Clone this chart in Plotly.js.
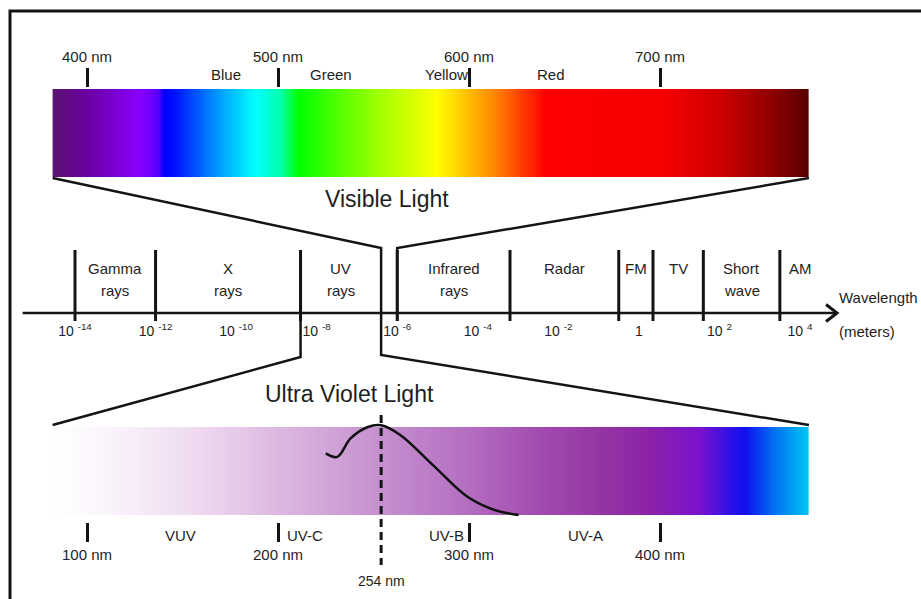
<!DOCTYPE html>
<html><head><meta charset="utf-8">
<script src="https://cdn.plot.ly/plotly-3.0.1.min.js"></script>
<style>html,body{margin:0;padding:0;background:#fff;}#chart{width:921px;height:599px;}</style>
</head><body><div id="chart"></div>
<script>
// ---------------- data ----------------
// Visible light spectrum (nm)
const visTickNm = [400, 500, 600, 700];
const visTickText = ['400 nm', '500 nm', '600 nm', '700 nm'];
const visColorNames = ['Blue', 'Green', 'Yellow', 'Red'];
const visColorNameNm = [473, 528, 588, 643];
const visBarNm = [382, 778];
const visStopNm = [382, 400, 428, 437, 441, 446, 467, 488, 501, 511, 527, 553, 574, 583, 595, 611, 621, 640, 700, 731, 758, 778];
const visStopColor = ['#5a1470', '#6a00a0', '#8a00ff', '#5a00ff', '#0000ff', '#0010ff', '#0090ff', '#00ffff', '#00ffb0', '#00ff00', '#40ff00', '#a0ff00', '#e0ff00', '#ffff00', '#ffd000', '#ff9000', '#ff6000', '#ff0000', '#f80000', '#d00000', '#900000', '#580000'];

// Ultra violet spectrum (nm)
const uvTickNm = [100, 200, 300, 400];
const uvTickText = ['100 nm', '200 nm', '300 nm', '400 nm'];
const uvBandNames = ['VUV', 'UV-C', 'UV-B', 'UV-A'];
const uvBandNameNm = [149, 214, 288, 361];
const uvBarNm = [82, 478];
const uvStopNm = [82, 107, 159, 201, 253, 295, 332, 369, 395, 421, 438, 445, 460, 478];
const uvStopColor = ['#ffffff', '#fbf6fc', '#eed9f0', '#dcb8e0', '#c690cf', '#b672c2', '#a44fb2', '#9535a3', '#8c22a8', '#7a12cc', '#2a10e8', '#1010f0', '#0070f0', '#00c8f5'];
const uvCurveNm = [225, 231, 238, 247, 254, 264, 281, 299, 313, 326];
const uvCurveRel = [0.70, 0.66, 0.87, 1.0, 1.02, 0.91, 0.57, 0.21, 0.06, 0.0];
const uvPeakNm = 254;
const uvPeakLabel = '254 nm';

// Electromagnetic spectrum (log10 of wavelength in meters)
const emTickExp = [-14, -12, -10, -8, -6, -4, -2, 0, 2, 4];
const emTickText = ['10 <sup>-14</sup>', '10 <sup>-12</sup>', '10 <sup>-10</sup>', '10 <sup>-8</sup>', '10 <sup>-6</sup>', '10 <sup>-4</sup>', '10 <sup>-2</sup>', '1', '10 <sup>2</sup>', '10 <sup>4</sup>'];
const bandLine1 = ['Gamma', 'X', 'UV', 'Infrared', 'Radar', 'FM', 'TV', 'Short', 'AM'];
const bandLine2 = ['rays', 'rays', 'rays', 'rays', '', '', '', 'wave', ''];
const bandStartExp = [-14, -12, -8.4, -6.0, -3.2, -0.5, 0.35, 1.6, 3.5];
const bandEndExp = [-12, -8.4, -6.4, -3.2, -0.5, 0.35, 1.6, 3.5, 4.5];
const visibleExp = [-6.4, -6.0];
const axisExp = [-15.3, 4.92];

// ---------------- layout geometry (pixels) ----------------
const W = 921, H = 599;
const FONT = 'Liberation Sans, Arial, Helvetica, sans-serif';
const TXT = '#1e1e1e';
function rangeFor(v0, p0, v1, p1, pa, pb) {
  const s = (v1 - v0) / (p1 - p0);
  return [v0 + (pa - p0) * s, v0 + (pb - p0) * s];
}
const xVisR = rangeFor(400, 87, 700, 660, 0, W);
const xUvR = rangeFor(100, 87, 400, 660, 0, W);
const xEmR = rangeFor(-14, 75, 4, 800, 0, W);
const yVisR = rangeFor(0, 177, 1, 89, H, 0);
const yUvR = rangeFor(0, 515, 1, 427, H, 0);
const px = (r, v) => (v - r[0]) / (r[1] - r[0]) * W;
const pyv = (r, v) => H - (v - r[0]) / (r[1] - r[0]) * H;
const yp = p => 1 - p / H;      // pixel row -> paper
const P = (x, y) => (x / W).toFixed(5) + ',' + (1 - y / H).toFixed(5);

// ---------------- traces ----------------
function gradientTrace(barNm, stopNm, stopColor, xa, ya) {
  const edges = [], mids = [];
  for (let v = barNm[0]; v <= barNm[1]; v += 1) edges.push(v);
  for (let i = 0; i < edges.length - 1; i++) mids.push((edges[i] + edges[i + 1]) / 2);
  const span = barNm[1] - barNm[0];
  const cs = stopNm.map((n, i) => [(n - barNm[0]) / span, stopColor[i]]);
  return {type: 'heatmap', x: edges, y: [0, 1], z: [mids], zmin: barNm[0], zmax: barNm[1],
    colorscale: cs, showscale: false, hoverinfo: 'skip', xaxis: xa, yaxis: ya, zsmooth: false};
}
const traces = [
  gradientTrace(visBarNm, visStopNm, visStopColor, 'x', 'y'),
  gradientTrace(uvBarNm, uvStopNm, uvStopColor, 'x2', 'y2'),
  {type: 'scatter', mode: 'lines', x: uvCurveNm, y: uvCurveRel, xaxis: 'x2', yaxis: 'y2',
   line: {color: '#111', width: 2.5, shape: 'spline', smoothing: 1}, hoverinfo: 'skip', showlegend: false},
  {type: 'scatter', mode: 'markers', x: bandStartExp, y: bandStartExp.map(() => -1000), xaxis: 'x3', yaxis: 'y',
   marker: {opacity: 0}, hoverinfo: 'skip', showlegend: false}
];

// ---------------- shapes ----------------
const LC = '#141414';
const shapes = [];
shapes.push({type: 'rect', xref: 'paper', yref: 'paper', x0: 10 / W, x1: (W + 10) / W, y0: yp(H + 10), y1: yp(11),
  line: {color: LC, width: 3}});
// band dividers
bandStartExp.forEach(e => shapes.push({type: 'line', xref: 'x3', yref: 'paper', x0: e, x1: e, y0: yp(250), y1: yp(321),
  line: {color: LC, width: 3}}));
// main wavelength axis with arrow
shapes.push({type: 'line', xref: 'x3', yref: 'paper', x0: axisExp[0], x1: axisExp[1], y0: yp(313), y1: yp(313),
  line: {color: LC, width: 2.5}});
const tip = px(xEmR, axisExp[1]);
shapes.push({type: 'path', xref: 'paper', yref: 'paper', path: 'M' + P(tip - 11, 304.5) + 'L' + P(tip, 313) + 'L' + P(tip - 11, 321.5),
  line: {color: LC, width: 3}});
// zoom connectors
const visL = px(xVisR, visBarNm[0]), visRt = px(xVisR, visBarNm[1]), visB = pyv(yVisR, 0);
const uvL = px(xUvR, uvBarNm[0]), uvRt = px(xUvR, uvBarNm[1]), uvT = pyv(yUvR, 1) - 2;
const vA = px(xEmR, visibleExp[0]), vB = px(xEmR, visibleExp[1]), uvA = px(xEmR, bandStartExp[2]);
shapes.push({type: 'path', xref: 'paper', yref: 'paper', line: {color: LC, width: 2.5},
  path: 'M' + P(visL, visB + 1) + 'L' + P(vA, 248) + 'L' + P(vA, 355) + 'L' + P(uvRt, uvT)});
shapes.push({type: 'path', xref: 'paper', yref: 'paper', line: {color: LC, width: 2.5},
  path: 'M' + P(visRt, visB + 1) + 'L' + P(vB, 248) + 'L' + P(vB, 321)});
shapes.push({type: 'path', xref: 'paper', yref: 'paper', line: {color: LC, width: 2.5},
  path: 'M' + P(uvA, 250) + 'L' + P(uvA, 357) + 'L' + P(uvL, uvT)});
// 254 nm dashed marker
shapes.push({type: 'line', xref: 'x2', yref: 'paper', x0: uvPeakNm, x1: uvPeakNm, y0: yp(415), y1: yp(565),
  line: {color: LC, width: 3, dash: '8px,5px'}});

// ---------------- annotations ----------------
const ann = [];
const A = (o) => ann.push(Object.assign({showarrow: false, xanchor: 'center', yanchor: 'middle',
  font: {family: FONT, size: 15, color: TXT}}, o));
visColorNames.forEach((t, i) => A({xref: 'x', yref: 'paper', x: visColorNameNm[i], y: yp(75), text: t}));
A({xref: 'paper', yref: 'paper', x: 387 / W, y: yp(199), text: 'Visible Light', font: {family: FONT, size: 23, color: TXT}});
A({xref: 'paper', yref: 'paper', x: 349 / W, y: yp(394), text: 'Ultra Violet Light', font: {family: FONT, size: 23, color: TXT}});
bandLine1.forEach((t, i) => {
  const c = (bandStartExp[i] + bandEndExp[i]) / 2;
  A({xref: 'x3', yref: 'paper', x: c, y: yp(268), text: t});
  if (bandLine2[i]) A({xref: 'x3', yref: 'paper', x: c, y: yp(290), text: bandLine2[i]});
});
A({xref: 'paper', yref: 'paper', x: 837 / W, xanchor: 'left', y: yp(297), text: 'Wavelength'});
A({xref: 'paper', yref: 'paper', x: 837 / W, xanchor: 'left', y: yp(331), text: '(meters)'});
uvBandNames.forEach((t, i) => A({xref: 'x2', yref: 'paper', x: uvBandNameNm[i], y: yp(535), text: t}));
A({xref: 'x2', yref: 'paper', x: uvPeakNm, y: yp(581), text: uvPeakLabel, font: {family: FONT, size: 14, color: TXT}});

// ---------------- layout ----------------
const hidden = {visible: false, fixedrange: true};
const layout = {
  width: W, height: H, margin: {l: 0, r: 0, t: 0, b: 0},
  paper_bgcolor: '#fff', plot_bgcolor: '#fff', showlegend: false,
  font: {family: FONT, color: TXT},
  xaxis: {range: xVisR, domain: [0, 1], side: 'top', anchor: 'free', position: yp(86.5),
    tickvals: visTickNm, ticktext: visTickText, ticks: 'outside', ticklen: 19, tickwidth: 3, tickcolor: LC,
    showline: false, showgrid: false, zeroline: false, tickfont: {family: FONT, size: 15, color: TXT}, fixedrange: true},
  xaxis2: {range: xUvR, domain: [0, 1], overlaying: 'x', side: 'bottom', anchor: 'free', position: yp(521.5),
    tickvals: uvTickNm, ticktext: uvTickText, ticks: 'outside', ticklen: 19, tickwidth: 3, tickcolor: LC,
    showline: false, showgrid: false, zeroline: false, tickfont: {family: FONT, size: 15, color: TXT}, fixedrange: true},
  xaxis3: {range: xEmR, domain: [0, 1], overlaying: 'x', side: 'bottom', anchor: 'free', position: yp(313),
    tickvals: emTickExp, ticktext: emTickText, ticks: '', ticklabelstandoff: 8,
    showline: false, showgrid: false, zeroline: false, tickfont: {family: FONT, size: 14, color: TXT}, fixedrange: true},
  yaxis: Object.assign({range: yVisR, domain: [0, 1]}, hidden),
  yaxis2: Object.assign({range: yUvR, domain: [0, 1], overlaying: 'y'}, hidden),
  shapes: shapes, annotations: ann
};
Plotly.newPlot('chart', traces, layout, {staticPlot: true, displayModeBar: false});
</script></body></html>
